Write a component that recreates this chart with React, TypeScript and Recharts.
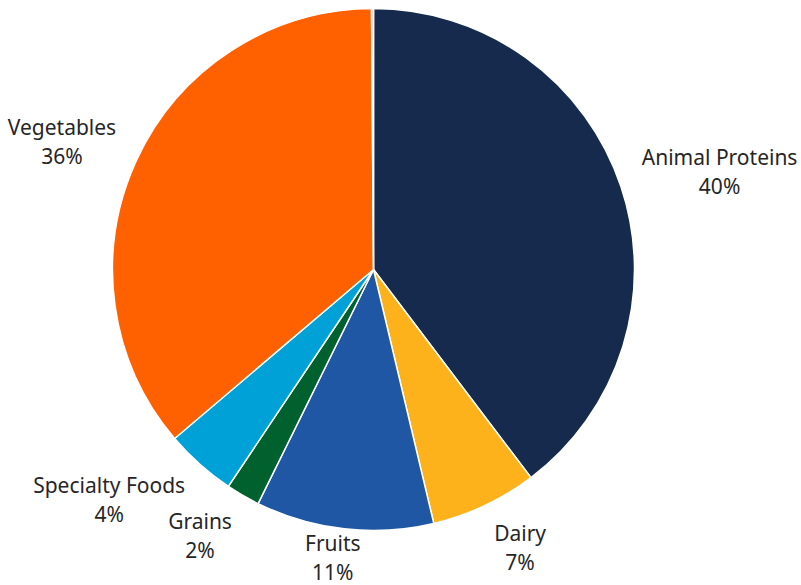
import React from "react";
import { PieChart, Pie, Cell } from "recharts";

// Slice data, clockwise from 12 o'clock
const categories = [
  "Animal Proteins",
  "Dairy",
  "Fruits",
  "Grains",
  "Specialty Foods",
  "Vegetables",
  "Other",
];
const shares = [39.7, 6.6, 11.0, 2.1, 4.4, 36.1, 0.12];
const COLORS = [
  "#152a4d",
  "#fdb11b",
  "#1f57a4",
  "#00612f",
  "#00a1d6",
  "#ff6100",
  "#f5a49c",
];

const W = 801;
const H = 585;
const FONT = '"Noto Sans", sans-serif';
const FONT_SIZE = 21;
const LINE_GAP = 29;
const RAD = Math.PI / 180;

const pieData = categories.map((name, i) => ({ name, value: shares[i] }));

let ctx: CanvasRenderingContext2D | null = null;
const textWidth = (s: string) => {
  if (!ctx) ctx = document.createElement("canvas").getContext("2d");
  if (!ctx) return s.length * FONT_SIZE * 0.5;
  ctx.font = `${FONT_SIZE}px ${FONT}`;
  return ctx.measureText(s).width;
};

// Outside labels: name + rounded percent, box pushed away from the pie
const renderLabel = (props: any) => {
  const { cx, cy, midAngle, outerRadius, percent, name } = props;
  if (percent < 0.005) return null;
  const pct = `${Math.round(percent * 100)}%`;
  const w = Math.max(textWidth(name), textWidth(pct));
  const h = 49;
  const ux = Math.cos(midAngle * RAD);
  const uy = -Math.sin(midAngle * RAD);
  const r = outerRadius + 22;
  const x = cx + ux * r + Math.sign(ux) * (w / 2) * Math.min(1, Math.abs(ux) / 0.35);
  let y = cy + uy * (r + h / 2);
  y = Math.min(y, H - 28);
  y = Math.max(y, 28);
  return (
    <text
      x={x}
      y={y}
      textAnchor="middle"
      fill="#262626"
      fontFamily={FONT}
      fontSize={FONT_SIZE}
    >
      <tspan x={x} y={y - LINE_GAP / 2} dominantBaseline="central">
        {name}
      </tspan>
      <tspan x={x} y={y + LINE_GAP / 2} dominantBaseline="central">
        {pct}
      </tspan>
    </text>
  );
};

export default function App() {
  return (
    <div style={{ width: W, height: H, background: "#fff" }}>
      <style>{`body{margin:0}`}</style>
      <PieChart width={W} height={H} margin={{ top: 0, right: 0, bottom: 0, left: 0 }}>
        <Pie
          data={pieData}
          dataKey="value"
          nameKey="name"
          cx={373.5}
          cy={269.5}
          outerRadius={261}
          startAngle={90}
          endAngle={-270}
          stroke="#ffffff"
          strokeWidth={1.5}
          label={renderLabel}
          labelLine={false}
          isAnimationActive={false}
        >
          {pieData.map((_, i) => (
            <Cell key={`cell-${i}`} fill={COLORS[i % COLORS.length]} />
          ))}
        </Pie>
      </PieChart>
    </div>
  );
}
